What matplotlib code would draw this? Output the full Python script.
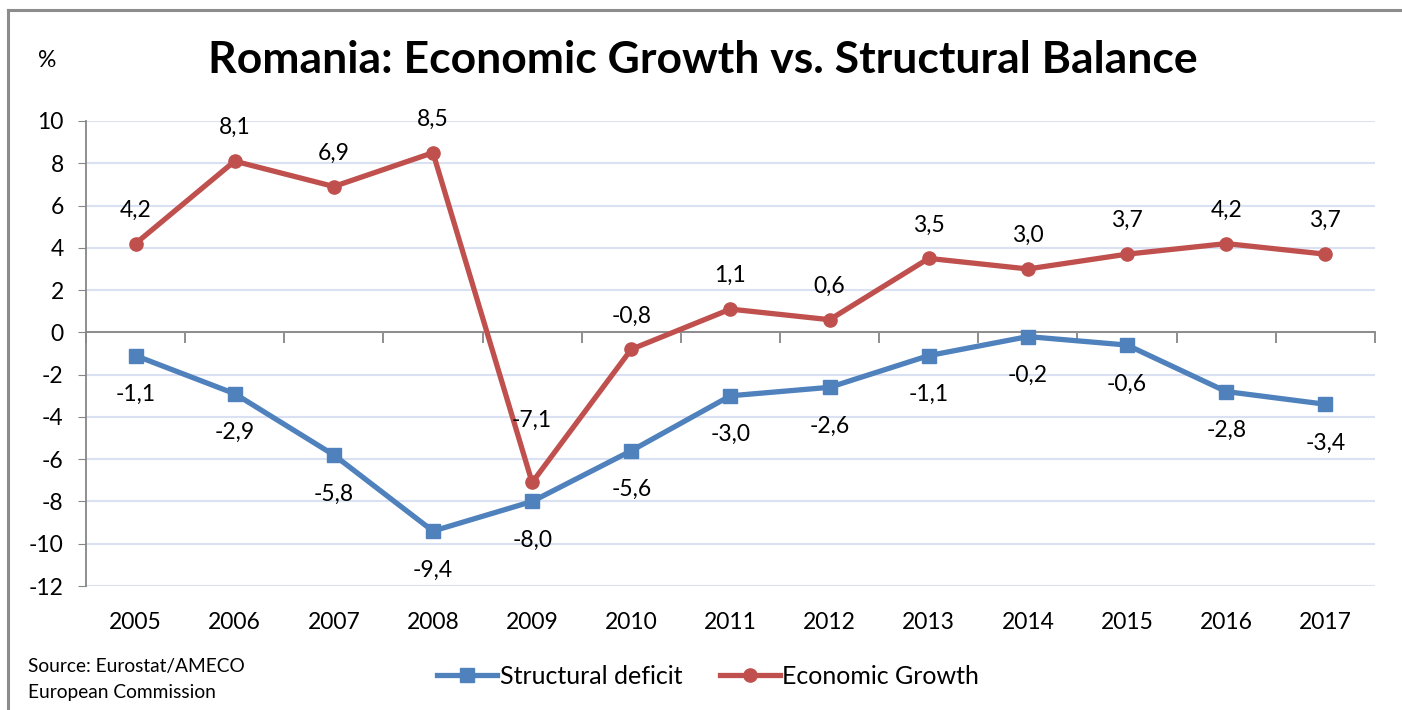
import matplotlib
matplotlib.use("Agg")
from matplotlib import pyplot as plt
from matplotlib.lines import Line2D
import numpy as np

plt.rcParams['font.family'] = ['Lato', 'DejaVu Sans']
plt.rcParams['axes.unicode_minus'] = False

years = ['2005', '2006', '2007', '2008', '2009', '2010', '2011',
         '2012', '2013', '2014', '2015', '2016', '2017']
structural_deficit = [-1.1, -2.9, -5.8, -9.4, -8.0, -5.6, -3.0,
                      -2.6, -1.1, -0.2, -0.6, -2.8, -3.4]
economic_growth = [4.2, 8.1, 6.9, 8.5, -7.1, -0.8, 1.1,
                   0.6, 3.5, 3.0, 3.7, 4.2, 3.7]

blue = '#4F81BD'
red = '#C0504D'
gray = '#868686'

fig = plt.figure(figsize=(14.02, 7.10), dpi=100)
ax = fig.add_axes([0.0613, 0.1746, 0.9194, 0.655])

x = np.arange(len(years))
ax.plot(x, structural_deficit, color=blue, lw=3.8, marker='s', ms=10,
        label='Structural deficit', zorder=3)
ax.plot(x, economic_growth, color=red, lw=3.8, marker='o', ms=9.5,
        label='Economic Growth', zorder=3)

def fmt(v):
    return f'{v:.1f}'.replace('.', ',')

for xi, v in zip(x, structural_deficit):
    ax.annotate(fmt(v), (xi, v), xytext=(0, -28), textcoords='offset points',
                ha='center', va='center', fontsize=16.5)
for xi, v in zip(x, economic_growth):
    # the 2009 label sits higher so it clears the falling line
    dy = 45 if years[xi] == '2009' else 24
    ax.annotate(fmt(v), (xi, v), xytext=(0, dy), textcoords='offset points',
                ha='center', va='center', fontsize=16.5)

ax.set_xlim(-0.5, len(years) - 0.5)
ax.set_ylim(-12, 10)
ax.set_yticks(range(-12, 11, 2))
ax.yaxis.grid(True, color='#D9E1F2', lw=1.5)
ax.set_axisbelow(True)
ax.tick_params(axis='y', labelsize=16.5, length=6, color=gray, pad=10)
for s in ['top', 'right']:
    ax.spines[s].set_visible(False)
ax.spines['left'].set_color(gray)
ax.spines['left'].set_linewidth(1.3)

# category axis line through zero, tick marks between categories
ax.spines['bottom'].set_position(('data', 0))
ax.spines['bottom'].set_color(gray)
ax.spines['bottom'].set_linewidth(1.3)
ax.set_xticks(np.arange(-0.5, len(years), 1.0))
ax.set_xticklabels([])
ax.tick_params(axis='x', length=8, width=1.3, color=gray, direction='out')

# year labels along the bottom of the plot area
year_axis = ax.secondary_xaxis('bottom')
year_axis.set_xticks(x)
year_axis.set_xticklabels(years)
year_axis.tick_params(labelsize=16.5, length=0, pad=19)
year_axis.spines['bottom'].set_visible(False)

fig.text(0.501, 0.915, 'Romania: Economic Growth vs. Structural Balance',
         ha='center', va='center', fontsize=32, fontweight='bold')
fig.text(0.034, 0.915, '%', ha='center', va='center', fontsize=16.5)
fig.text(0.020, 0.061, 'Source: Eurostat/AMECO', ha='left', va='center', fontsize=13.8)
fig.text(0.020, 0.024, 'European Commission', ha='left', va='center', fontsize=13.8)

fig.legend(loc='center', bbox_to_anchor=(0.505, 0.047), ncol=2, frameon=False,
           fontsize=18, handlelength=2.4, columnspacing=1.5, handletextpad=0.1)

# chart frame (top and left edges)
fig.add_artist(Line2D([0.0057, 1.0], [0.986, 0.986], color='#8C8C8C', lw=2.2,
                      transform=fig.transFigure))
fig.add_artist(Line2D([0.0057, 0.0057], [0.0, 0.986], color='#8C8C8C', lw=2.2,
                      transform=fig.transFigure))

fig.savefig('out.png', dpi=100)
